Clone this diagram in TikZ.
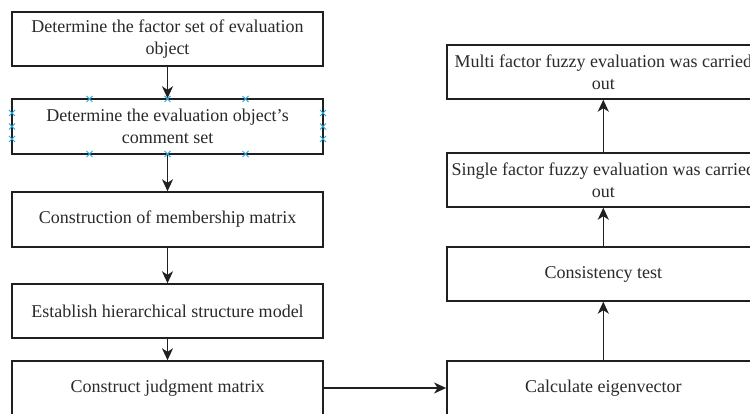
\documentclass[tikz,border=0pt]{standalone}
\usepackage{fontspec}
\setmainfont{Liberation Serif}
\usetikzlibrary{arrows.meta}
\definecolor{ln}{HTML}{202020}
\definecolor{tx}{HTML}{2A2A2A}
\definecolor{hb}{HTML}{29A8E0}
\begin{document}
\begin{tikzpicture}[x=1pt,y=-1pt,
  box/.style={draw=ln,line width=1.4pt,fill=white,rectangle,inner sep=0pt,align=center,
    text=tx,font=\fontsize{18}{21.7}\selectfont},
  lbox/.style={box,minimum width=311pt},
  rbox/.style={box,minimum width=313pt},
  arr/.style={draw=ln,line width=1.4pt,-{Stealth[length=12pt,width=11pt,inset=3.5pt]}},
  hmark/.style={draw=hb,line width=0.9pt}]
\useasboundingbox (0,0) rectangle (750,414);
\clip (0,0) rectangle (750,414);
\node[lbox,minimum height=54pt] (b1) at (167.5,39) {Determine the factor set of evaluation\\object};
\node[lbox,minimum height=55pt] (b2) at (167.5,126.5) {Determine the evaluation object's\\comment set};
\node[lbox,minimum height=55pt] (b3) at (167.5,219.5) {Construction of membership matrix};
\node[lbox,minimum height=54pt] (b4) at (167.5,311) {Establish hierarchical structure model};
\node[lbox,minimum height=54pt] (b5) at (167.5,388) {Construct judgment matrix};
\node[rbox,minimum height=54pt] (r1) at (603.3,72) {Multi factor fuzzy evaluation was carried\\out};
\node[rbox,minimum height=54pt] (r2) at (603.3,180) {Single factor fuzzy evaluation was carried\\out};
\node[rbox,minimum height=54pt] (r3) at (603.3,274) {Consistency test};
\node[rbox,minimum height=54pt] (r4) at (603.3,388) {Calculate eigenvector};
\draw[arr] (b1) -- (b2);
\draw[arr] (b2) -- (b3);
\draw[arr] (b3) -- (b4);
\draw[arr] (b4) -- (b5);
\draw[arr] (b5) -- (r4);
\draw[arr] (r4) -- (r3);
\draw[arr] (r3) -- (r2);
\draw[arr] (r2) -- (r1);
% selection handles on the second box
\foreach \p in {(89.5,99),(167.5,99),(245.5,99),(89.5,154),(167.5,154),(245.5,154),
  (12,113),(12,126.5),(12,139),(323,113),(323,126.5),(323,139)}
  \draw[hmark] \p ++(-3,-3) -- ++(6,6) \p ++(-3,3) -- ++(6,-6);
\end{tikzpicture}
\end{document}
